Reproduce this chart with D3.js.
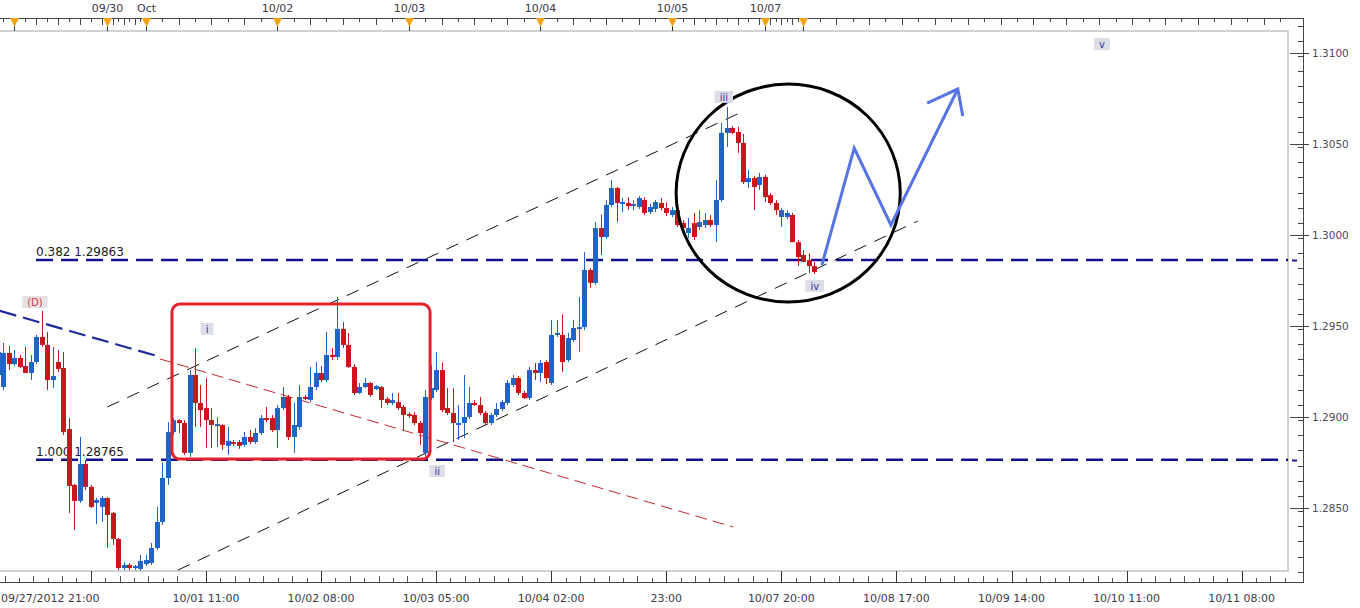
<!DOCTYPE html>
<html>
<head>
<meta charset="utf-8">
<script src="https://cdn.jsdelivr.net/npm/d3@7"></script>
<style>
body { margin: 0; background: #fff; }
svg { display: block; font-family: "DejaVu Sans", sans-serif; }
</style>
</head>
<body>
<script>
var width = 1360,
    height = 608;

// hourly EUR/USD bars, weekend removed; bar 0 = 09/27/2012 21:00
// [open, high, low, close]
var candles = [
  [1.29231,1.29396,1.29214,1.29357],[1.29165,1.29407,1.29148,1.29352],[1.29352,1.29390,1.29258,1.29291],[1.29291,1.29368,1.29280,1.29324],
  [1.29324,1.29341,1.29269,1.29275],[1.29280,1.29385,1.29242,1.29242],[1.29242,1.29341,1.29203,1.29302],[1.29302,1.29451,1.29291,1.29440],
  [1.29440,1.29583,1.29385,1.29396],[1.29396,1.29467,1.29148,1.29203],[1.29203,1.29385,1.29159,1.29225],[1.29302,1.29368,1.29247,1.29264],
  [1.29269,1.29357,1.28901,1.28917],[1.28934,1.28994,1.28473,1.28621],[1.28627,1.28632,1.28379,1.28539],[1.28539,1.28890,1.28528,1.28742],
  [1.28742,1.28764,1.28599,1.28616],[1.28616,1.28627,1.28500,1.28506],[1.28528,1.28555,1.28412,1.28544],[1.28506,1.28566,1.28423,1.28555],
  [1.28555,1.28561,1.28280,1.28462],[1.28473,1.28478,1.28297,1.28330],[1.28330,1.28335,1.28159,1.28170],[1.28170,1.28203,1.28159,1.28187],
  [1.28187,1.28198,1.28159,1.28170],[1.28176,1.28187,1.28159,1.28181],[1.28165,1.28242,1.28154,1.28209],[1.28192,1.28242,1.28181,1.28214],
  [1.28198,1.28308,1.28187,1.28280],[1.28280,1.28506,1.28269,1.28423],[1.28423,1.28753,1.28407,1.28665],[1.28665,1.28972,1.28627,1.28917],
  [1.28917,1.28994,1.28901,1.28983],[1.28983,1.28988,1.28912,1.28967],[1.28967,1.28983,1.28792,1.28803],[1.28803,1.29258,1.28781,1.29231],
  [1.29231,1.29379,1.28945,1.29077],[1.29077,1.29176,1.28945,1.29038],[1.29049,1.29214,1.28830,1.28983],[1.28983,1.29049,1.28830,1.28956],
  [1.28950,1.29000,1.28836,1.28961],[1.28956,1.28961,1.28819,1.28847],[1.28841,1.28945,1.28792,1.28869],[1.28863,1.28874,1.28841,1.28858],
  [1.28863,1.28874,1.28825,1.28841],[1.28847,1.28917,1.28836,1.28890],[1.28890,1.28928,1.28852,1.28863],[1.28863,1.28939,1.28852,1.28912],
  [1.28912,1.29011,1.28901,1.28994],[1.28994,1.29055,1.28972,1.28983],[1.28994,1.29011,1.28917,1.28928],[1.28928,1.29066,1.28830,1.29049],
  [1.29049,1.29165,1.29038,1.29110],[1.29110,1.29121,1.28874,1.28890],[1.28890,1.29077,1.28803,1.28956],[1.28945,1.29176,1.28928,1.29110],
  [1.29110,1.29121,1.29093,1.29104],[1.29093,1.29275,1.29082,1.29165],[1.29165,1.29302,1.29148,1.29242],[1.29242,1.29280,1.29192,1.29203],
  [1.29203,1.29467,1.29192,1.29341],[1.29341,1.29379,1.29313,1.29330],[1.29330,1.29660,1.29313,1.29484],[1.29484,1.29522,1.29379,1.29396],
  [1.29396,1.29462,1.29269,1.29275],[1.29275,1.29291,1.29121,1.29132],[1.29132,1.29187,1.29126,1.29165],[1.29165,1.29214,1.29159,1.29187],
  [1.29187,1.29192,1.29110,1.29121],[1.29154,1.29176,1.29148,1.29170],[1.29165,1.29170,1.29049,1.29093],[1.29099,1.29110,1.29066,1.29077],
  [1.29077,1.29132,1.29066,1.29093],[1.29082,1.29132,1.29038,1.29049],[1.29055,1.29066,1.28928,1.29011],[1.29016,1.29027,1.28994,1.29005],
  [1.29011,1.29027,1.28956,1.28967],[1.28967,1.28978,1.28847,1.28912],[1.28803,1.29148,1.28781,1.29110],[1.29104,1.29286,1.29093,1.29159],
  [1.29148,1.29357,1.29137,1.29258],[1.29258,1.29297,1.29027,1.29038],[1.29049,1.29159,1.29011,1.29022],[1.29022,1.29159,1.28863,1.28967],
  [1.28961,1.29066,1.28874,1.28967],[1.28967,1.29231,1.28884,1.29000],[1.29000,1.29165,1.28988,1.29077],[1.29077,1.29093,1.29060,1.29066],
  [1.29066,1.29110,1.29011,1.29022],[1.29022,1.29033,1.28956,1.28967],[1.28967,1.29022,1.28956,1.29011],[1.29011,1.29077,1.29000,1.29044],
  [1.29044,1.29093,1.29033,1.29082],[1.29077,1.29203,1.29066,1.29187],[1.29176,1.29231,1.29165,1.29214],[1.29214,1.29225,1.29121,1.29132],
  [1.29132,1.29143,1.29099,1.29104],[1.29104,1.29275,1.29093,1.29258],[1.29258,1.29297,1.29203,1.29242],[1.29242,1.29313,1.29192,1.29297],
  [1.29302,1.29313,1.29181,1.29214],[1.29187,1.29533,1.29176,1.29451],[1.29451,1.29533,1.29440,1.29462],[1.29451,1.29561,1.29247,1.29302],
  [1.29313,1.29462,1.29302,1.29434],[1.29423,1.29533,1.29412,1.29489],[1.29489,1.29660,1.29357,1.29494],[1.29494,1.29906,1.29478,1.29808],
  [1.29808,1.29819,1.29709,1.29737],[1.29737,1.30071,1.29726,1.30038],[1.30038,1.30110,1.29890,1.29989],[1.29989,1.30192,1.29978,1.30165],
  [1.30165,1.30302,1.30154,1.30258],[1.30258,1.30264,1.30071,1.30176],[1.30176,1.30203,1.30126,1.30181],[1.30176,1.30208,1.30137,1.30159],
  [1.30159,1.30192,1.30137,1.30170],[1.30154,1.30214,1.30143,1.30203],[1.30192,1.30208,1.30110,1.30121],[1.30126,1.30170,1.30115,1.30154],
  [1.30143,1.30192,1.30126,1.30181],[1.30176,1.30203,1.30137,1.30148],[1.30148,1.30176,1.30104,1.30121],[1.30110,1.30154,1.30099,1.30137],
  [1.30137,1.30154,1.30044,1.30055],[1.30066,1.30082,1.30016,1.30038],[1.30011,1.30093,1.29983,1.30038],[1.30066,1.30121,1.29972,1.29989],
  [1.30044,1.30137,1.30027,1.30071],[1.30055,1.30121,1.30038,1.30082],[1.30082,1.30110,1.30044,1.30055],[1.30055,1.30302,1.29961,1.30192],
  [1.30192,1.30616,1.30181,1.30561],[1.30561,1.30704,1.30484,1.30588],[1.30588,1.30599,1.30555,1.30561],[1.30566,1.30594,1.30451,1.30506],
  [1.30506,1.30555,1.30280,1.30291],[1.30291,1.30357,1.30258,1.30313],[1.30313,1.30324,1.30137,1.30264],[1.30275,1.30341,1.30247,1.30319],
  [1.30319,1.30330,1.30181,1.30208],[1.30219,1.30230,1.30165,1.30176],[1.30176,1.30192,1.30110,1.30137],[1.30099,1.30148,1.30044,1.30137],
  [1.30099,1.30137,1.30088,1.30121],[1.30110,1.30121,1.29961,1.29961],[1.29961,1.29972,1.29829,1.29879],[1.29890,1.29917,1.29852,1.29852],
  [1.29862,1.29900,1.29791,1.29829],[1.29829,1.29852,1.29786,1.29797]
];

var fibLevels = [1.29863, 1.28765];
var fibNames = ["0.382 1.29863", "1.000 1.28765"];
var fibStartBar = 7;

var priceTicks = [1.2850, 1.2900, 1.2950, 1.3000, 1.3050, 1.3100];

var dayBars = [3, 20, 27, 51, 75, 99, 123, 140, 147];
var dayLabels = ["", "09/30", "Oct", "10/02", "10/03", "10/04", "10/05", "10/07", ""];

var timeBars = [17, 38, 59, 80, 101, 122, 143, 164, 185, 206, 227];
var timeLabels = ["", "10/01 11:00", "10/02 08:00", "10/03 05:00", "10/04 02:00", "23:00",
                  "10/07 20:00", "10/08 17:00", "10/09 14:00", "10/10 11:00", "10/11 08:00"];
var firstLabel = "09/27/2012 21:00";

var waveNames = ["(D)", "i", "ii", "iii", "iv", "v"];
var waveBars = [6.8, 38.2, 80.2, 132.5, 149.1, 201.5];
var wavePrices = [1.29632, 1.29484, 1.28703, 1.30759, 1.29720, 1.31049];

// drawn objects, [bar, price]
var trendD = [[0.4, 1.29583], [29.1, 1.29335]];
var trendDExt = [[29.6, 1.29319], [134.2, 1.28396]];
var channelTop = [[20.0, 1.29055], [135.8, 1.30676]];
var channelBottom = [[32.9, 1.28159], [167.9, 1.30077]];
var boxBars = [31.8, 78.9], boxPrices = [1.29621, 1.28769];
var circleBars = [123.8, 164.7], circlePrices = [1.30829, 1.29632];
var forecast = [[150.4, 1.29835], [156.3, 1.30478], [163.0, 1.30055], [175.2, 1.30802]];
var arrowHead = [[169.6, 1.30725], [175.2, 1.30802], [176.1, 1.30654]];

var plotRight = 1288, plotTop = 31, plotBottom = 571, axisRight = 1303;

var x = d3.scaleLinear().domain([0, 235]).range([-2.3, 1285.5]);
var y = d3.scaleLinear().domain([1.2850, 1.3100]).range([508, 53]);

var svg = d3.select("body").append("svg")
    .attr("width", width)
    .attr("height", height);

svg.append("defs").append("clipPath").attr("id", "plot")
  .append("rect").attr("x", 0).attr("y", plotTop).attr("width", plotRight).attr("height", plotBottom - plotTop);

// frames
svg.append("line").attr("x1", 0).attr("x2", axisRight).attr("y1", 18.5).attr("y2", 18.5).attr("stroke", "#444");
svg.append("line").attr("x1", axisRight + 0.5).attr("x2", axisRight + 0.5).attr("y1", 18).attr("y2", 583).attr("stroke", "#444");
svg.append("line").attr("x1", 0).attr("x2", axisRight).attr("y1", 582.5).attr("y2", 582.5).attr("stroke", "#444");
svg.append("path")
    .attr("d", "M0," + plotTop + "H" + plotRight + "V" + plotBottom + "H0")
    .attr("fill", "none").attr("stroke", "#cfcfd4").attr("stroke-width", 2);

// top axis ticks
var topTicks = [].concat(d3.range(1, 20, 2), d3.range(20, 27), d3.range(27, 123, 3),
                         d3.range(123, 140, 2), d3.range(140, 147), d3.range(147, 236, 3));
svg.append("g").selectAll("line").data(topTicks).enter().append("line")
    .attr("x1", function(d) { return Math.round(x(d)) + 0.5; })
    .attr("x2", function(d) { return Math.round(x(d)) + 0.5; })
    .attr("y1", 18).attr("y2", function(d, i) { return i % 2 ? 25 : 22; })
    .attr("stroke", "#444");

var days = svg.append("g").selectAll("g").data(dayBars).enter().append("g")
    .attr("transform", function(d) { return "translate(" + Math.round(x(d)) + ",0)"; });
days.append("line").attr("x1", 0.5).attr("x2", 0.5).attr("y1", 18).attr("y2", 31).attr("stroke", "#333");
days.append("path").attr("d", "M-4,18L5,18L0.5,27Z").attr("fill", "#f2a419");
days.append("text").attr("x", 0.5).attr("y", 12).attr("text-anchor", "middle")
    .attr("font-size", 11).attr("fill", "#3a3a4a")
    .text(function(d, i) { return dayLabels[i]; });

// bottom axis
var minorBottom = d3.range(-4, 236, 21 / 8);
svg.append("g").selectAll("line").data(minorBottom).enter().append("line")
    .attr("x1", function(d) { return Math.round(x(d)) + 0.5; })
    .attr("x2", function(d) { return Math.round(x(d)) + 0.5; })
    .attr("y1", function(d, i) { return i % 2 ? 578 : 576; }).attr("y2", 582)
    .attr("stroke", "#555");
svg.append("g").selectAll("line").data(timeBars).enter().append("line")
    .attr("x1", function(d) { return Math.round(x(d)) + 0.5; })
    .attr("x2", function(d) { return Math.round(x(d)) + 0.5; })
    .attr("y1", 571).attr("y2", 583)
    .attr("stroke", "#333");
svg.append("g").selectAll("text").data(timeBars).enter().append("text")
    .attr("x", function(d) { return x(d); })
    .attr("y", 602).attr("text-anchor", "middle")
    .attr("font-size", 11).attr("fill", "#3a3a4a")
    .text(function(d, i) { return timeLabels[i]; });
svg.append("text").attr("x", 1).attr("y", 602)
    .attr("font-size", 11).attr("fill", "#3a3a4a").text(firstLabel);

// right price axis
var minorPrices = d3.range(1.2815, 1.3115, 0.005 / 6);
svg.append("g").selectAll("line").data(minorPrices).enter().append("line")
    .attr("x1", axisRight - 5).attr("x2", axisRight)
    .attr("y1", function(d) { return Math.round(y(d)) + 0.5; })
    .attr("y2", function(d) { return Math.round(y(d)) + 0.5; })
    .attr("stroke", "#444");
svg.append("g").selectAll("line").data(priceTicks).enter().append("line")
    .attr("x1", plotRight + 2).attr("x2", axisRight + 6)
    .attr("y1", function(d) { return Math.round(y(d)) + 0.5; })
    .attr("y2", function(d) { return Math.round(y(d)) + 0.5; })
    .attr("stroke", "#444");
svg.append("g").selectAll("text").data(priceTicks).enter().append("text")
    .attr("x", axisRight + 9).attr("y", function(d) { return y(d) + 4; })
    .attr("font-size", 10.5).attr("fill", "#4a4a5a")
    .text(function(d) { return d.toFixed(4); });
svg.append("g").selectAll("line").data(fibLevels).enter().append("line")
    .attr("x1", plotRight + 4).attr("x2", plotRight + 9)
    .attr("y1", function(d) { return Math.round(y(d)) + 0.5; })
    .attr("y2", function(d) { return Math.round(y(d)) + 0.5; })
    .attr("stroke", "#1a1a9a").attr("stroke-width", 2);

var plot = svg.append("g").attr("clip-path", "url(#plot)");
var line = d3.line().x(function(d) { return x(d[0]); }).y(function(d) { return y(d[1]); });

// fibonacci levels
plot.append("g").selectAll("line").data(fibLevels).enter().append("line")
    .attr("x1", x(fibStartBar)).attr("x2", plotRight)
    .attr("y1", function(d) { return y(d); }).attr("y2", function(d) { return y(d); })
    .attr("stroke", "#12128c").attr("stroke-width", 2.5).attr("stroke-dasharray", "17,8");
plot.append("g").selectAll("text").data(fibLevels).enter().append("text")
    .attr("x", x(fibStartBar)).attr("y", function(d) { return y(d) - 4; })
    .attr("font-size", 12).attr("fill", "#1a1a1a")
    .text(function(d, i) { return fibNames[i]; });

// channel and trend lines
[channelTop, channelBottom].forEach(function(c) {
  plot.append("path").attr("d", line(c)).attr("fill", "none")
      .attr("stroke", "#111").attr("stroke-width", 1).attr("stroke-dasharray", "13,9");
});
plot.append("path").attr("d", line(trendDExt)).attr("fill", "none")
    .attr("stroke", "#c8282c").attr("stroke-width", 1).attr("stroke-dasharray", "12,6");
plot.append("path").attr("d", line(trendD)).attr("fill", "none")
    .attr("stroke", "#1f2a9c").attr("stroke-width", 2.2).attr("stroke-dasharray", "17,7");

// candles
var bars = plot.append("g").selectAll("g").data(candles).enter().append("g");
function cx(i) { return Math.round(x(i)); }
function col(d) { return d[3] >= d[0] ? "#1f64c6" : "#c9161c"; }
bars.append("line")
    .attr("x1", function(d, i) { return cx(i) + 0.5; })
    .attr("x2", function(d, i) { return cx(i) + 0.5; })
    .attr("y1", function(d) { return y(d[1]); })
    .attr("y2", function(d) { return y(d[2]); })
    .attr("stroke", col).attr("stroke-width", 1);
bars.append("rect")
    .attr("x", function(d, i) { return cx(i) - 2; })
    .attr("width", 5)
    .attr("y", function(d) { return y(Math.max(d[0], d[3])); })
    .attr("height", function(d) { return Math.max(2, Math.abs(y(d[0]) - y(d[3]))); })
    .attr("fill", col);

// red box
plot.append("rect")
    .attr("x", x(boxBars[0])).attr("y", y(boxPrices[0]))
    .attr("width", x(boxBars[1]) - x(boxBars[0]))
    .attr("height", y(boxPrices[1]) - y(boxPrices[0]))
    .attr("rx", 8).attr("ry", 8)
    .attr("fill", "none").attr("stroke", "#e2222c").attr("stroke-width", 3);

// circle
plot.append("ellipse")
    .attr("cx", (x(circleBars[0]) + x(circleBars[1])) / 2)
    .attr("cy", (y(circlePrices[0]) + y(circlePrices[1])) / 2)
    .attr("rx", (x(circleBars[1]) - x(circleBars[0])) / 2)
    .attr("ry", (y(circlePrices[1]) - y(circlePrices[0])) / 2)
    .attr("fill", "none").attr("stroke", "#000").attr("stroke-width", 3);

// forecast arrow
plot.append("path").attr("d", line(forecast)).attr("fill", "none")
    .attr("stroke", "#5674e2").attr("stroke-width", 3).attr("stroke-linejoin", "miter");
plot.append("path").attr("d", line(arrowHead)).attr("fill", "none")
    .attr("stroke", "#5674e2").attr("stroke-width", 3);

// wave labels
var waves = plot.append("g").selectAll("g").data(waveNames).enter().append("g")
    .attr("transform", function(d, i) {
      return "translate(" + x(waveBars[i]) + "," + y(wavePrices[i]) + ")";
    });
var waveBox = waves.append("rect")
    .attr("y", -6).attr("height", 12)
    .attr("fill", function(d) { return d === "(D)" ? "#e6e2e4" : "#dcdde6"; });
var waveText = waves.append("text")
    .attr("y", 4).attr("text-anchor", "middle")
    .attr("font-size", 10)
    .attr("fill", function(d) { return d === "(D)" ? "#d23c3c" : "#34349a"; })
    .text(function(d) { return d; });
waveText.each(function(d, i) {
  var w = this.getComputedTextLength() + 10;
  d3.select(waveBox.nodes()[i]).attr("x", -w / 2).attr("width", w);
});
</script>
</body>
</html>
